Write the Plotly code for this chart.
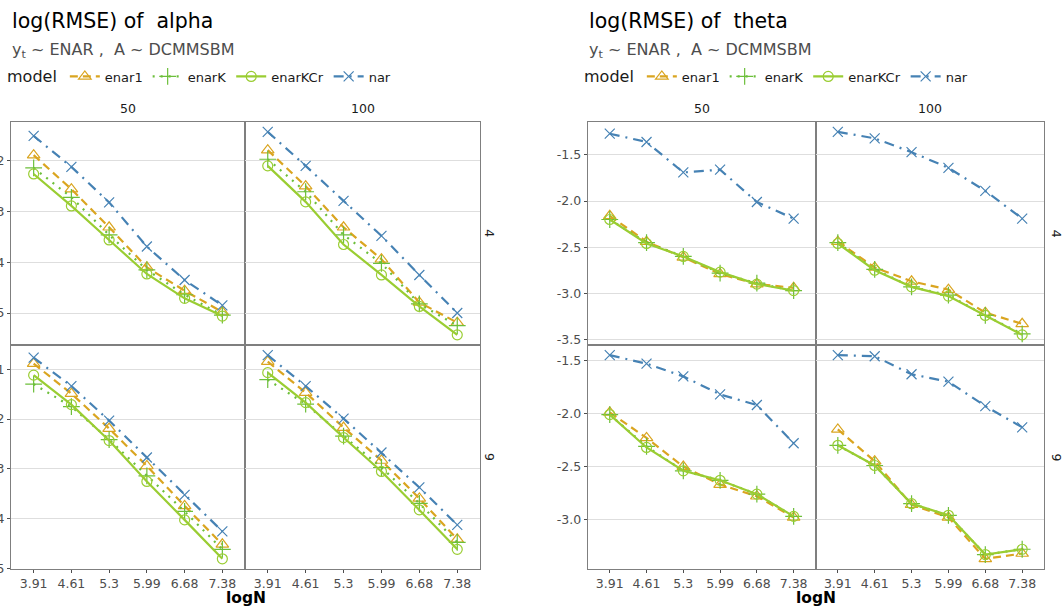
import plotly.graph_objects as go

# ---------------- data ----------------
logN = ["3.91", "4.61", "5.3", "5.99", "6.68", "7.38"]
models = ["enar1", "enarK", "enarKCr", "nar"]
row_labels = ["4", "9"]
col_labels = ["50", "100"]

# alpha : row "4"
alpha_4_50_enar1 = [-1.89, -2.56, -3.31, -4.10, -4.56, -4.98]
alpha_4_50_enarK = [-2.14, -2.72, -3.46, -4.15, -4.64, -5.04]
alpha_4_50_enarKCr = [-2.26, -2.89, -3.56, -4.23, -4.71, -5.06]
alpha_4_50_nar = [-1.51, -2.12, -2.82, -3.69, -4.35, -4.85]
alpha_4_100_enar1 = [-1.79, -2.50, -3.31, -3.94, -4.79, -5.19]
alpha_4_100_enarK = [-1.97, -2.61, -3.46, -4.02, -4.82, -5.25]
alpha_4_100_enarKCr = [-2.10, -2.81, -3.65, -4.25, -4.87, -5.43]
alpha_4_100_nar = [-1.43, -2.10, -2.79, -3.48, -4.25, -5.00]
# alpha : row "9"
alpha_9_50_enar1 = [-0.89, -1.49, -2.19, -2.94, -3.74, -4.51]
alpha_9_50_enarK = [-1.30, -1.75, -2.41, -3.14, -3.85, -4.61]
alpha_9_50_enarKCr = [-1.12, -1.71, -2.43, -3.25, -4.02, -4.80]
alpha_9_50_nar = [-0.77, -1.34, -2.03, -2.77, -3.52, -4.25]
alpha_9_100_enar1 = [-0.85, -1.47, -2.17, -2.83, -3.59, -4.41]
alpha_9_100_enarK = [-1.21, -1.70, -2.34, -2.97, -3.69, -4.47]
alpha_9_100_enarKCr = [-1.07, -1.67, -2.37, -3.05, -3.82, -4.61]
alpha_9_100_nar = [-0.72, -1.34, -1.99, -2.67, -3.37, -4.12]

# theta : row "4"
theta_4_50_enar1 = [-2.16, -2.44, -2.61, -2.79, -2.90, -2.94]
theta_4_50_enarK = [-2.20, -2.45, -2.60, -2.78, -2.89, -2.97]
theta_4_50_enarKCr = [-2.20, -2.46, -2.60, -2.77, -2.90, -2.97]
theta_4_50_nar = [-1.27, -1.36, -1.69, -1.66, -2.01, -2.19]
theta_4_100_enar1 = [-2.44, -2.72, -2.87, -2.96, -3.21, -3.33]
theta_4_100_enarK = [-2.45, -2.74, -2.93, -3.02, -3.24, -3.44]
theta_4_100_enarKCr = [-2.46, -2.75, -2.93, -3.03, -3.24, -3.45]
theta_4_100_nar = [-1.25, -1.32, -1.47, -1.64, -1.89, -2.19]
# theta : row "9"
theta_9_50_enar1 = [-1.99, -2.23, -2.50, -2.67, -2.78, -2.98]
theta_9_50_enarK = [-2.01, -2.31, -2.54, -2.63, -2.76, -2.97]
theta_9_50_enarKCr = [-2.01, -2.32, -2.54, -2.63, -2.76, -2.97]
theta_9_50_nar = [-1.45, -1.53, -1.65, -1.82, -1.92, -2.28]
theta_9_100_enar1 = [-2.15, -2.45, -2.86, -2.98, -3.37, -3.32]
theta_9_100_enarK = [-2.30, -2.49, -2.85, -2.96, -3.33, -3.28]
theta_9_100_enarKCr = [-2.30, -2.49, -2.85, -2.96, -3.33, -3.28]
theta_9_100_nar = [-1.45, -1.46, -1.63, -1.70, -1.93, -2.13]

alpha_ticks = {"4": [-2, -3, -4, -5], "9": [-1, -2, -3, -4, -5]}
theta_ticks = {"4": [-1.5, -2.0, -2.5, -3.0, -3.5], "9": [-1.5, -2.0, -2.5, -3.0]}

# ---------------- assembly ----------------
D = globals()
W, H = 1064, 607
FONT = "DejaVu Sans"

def px_x(p):
    return p / W

def px_y(p):
    return 1 - p / H

styles = {
    "enar1": dict(color="#DAA520", dash="8px,5px", symbol="triangle-up-open", size=11),
    "enarK": dict(color="#6CBF3A", dash="2px,6px", symbol="cross-thin-open", size=12),
    "enarKCr": dict(color="#9ACD32", dash="solid", symbol="circle-open", size=10),
    "nar": dict(color="#4682B4", dash="10px,6px,2px,6px", symbol="x-thin-open", size=10),
}

charts = [
    dict(name="alpha", title="log(RMSE) of  alpha", cols=[(11, 245), (245, 480)], ticks=alpha_ticks,
         tfmt=lambda v: f"{v:d}", strip_x=490),
    dict(name="theta", title="log(RMSE) of  theta", cols=[(587.7, 815.7), (815.7, 1044.3)], ticks=theta_ticks,
         tfmt=lambda v: f"{v:.1f}", strip_x=1056.5),
]
rows = [(121.7, 345), (345, 569)]

fig = go.Figure()
layout = {}
annotations = []
idx = 0
for c, ch in enumerate(charts):
    for r, rl in enumerate(row_labels):
        # y range per row (free y) with 5% expansion
        allv = []
        for cl in col_labels:
            for m in models:
                allv += D[f"{ch['name']}_{rl}_{cl}_{m}"]
        lo, hi = min(allv), max(allv)
        pad = (hi - lo) * 0.05
        yr = [lo - pad, hi + pad]
        for k, cl in enumerate(col_labels):
            idx += 1
            xa = "xaxis" if idx == 1 else f"xaxis{idx}"
            ya = "yaxis" if idx == 1 else f"yaxis{idx}"
            xr = "x" if idx == 1 else f"x{idx}"
            yrf = "y" if idx == 1 else f"y{idx}"
            x0, x1 = ch["cols"][k]
            y0, y1 = rows[r]
            layout[xa] = dict(
                domain=[px_x(x0), px_x(x1)], anchor=yrf, type="category",
                categoryorder="array", categoryarray=logN, range=[-0.6, 5.6],
                showgrid=False, zeroline=False, showline=True, mirror=True,
                linecolor="#7F7F7F", linewidth=1,
                showticklabels=(r == 1), ticks="outside" if r == 1 else "",
                ticklen=3, tickcolor="#4D4D4D",
                tickfont=dict(family=FONT, size=12.5, color="#4D4D4D"),
            )
            tv = ch["ticks"][rl]
            layout[ya] = dict(
                domain=[px_y(y1), px_y(y0)], anchor=xr, range=yr,
                tickvals=tv, ticktext=[ch["tfmt"](v) for v in tv],
                showgrid=True, gridcolor="#DEDEDE", gridwidth=1, zeroline=False,
                showline=True, mirror=True, linecolor="#7F7F7F", linewidth=1,
                showticklabels=(k == 0), ticks="outside" if k == 0 else "",
                ticklen=3, tickcolor="#4D4D4D",
                tickfont=dict(family=FONT, size=12.5, color="#4D4D4D"),
            )
            for m in models:
                st = styles[m]
                fig.add_trace(go.Scatter(
                    x=logN, y=D[f"{ch['name']}_{rl}_{cl}_{m}"],
                    mode="lines+markers", name=m,
                    line=dict(color=st["color"], width=2.2, dash=st["dash"]),
                    marker=dict(symbol=st["symbol"], size=st["size"], color=st["color"],
                                line=dict(color=st["color"], width=1.2)),
                    legend="legend" if c == 0 else "legend2",
                    legendgroup=f"{c}-{m}", showlegend=(r == 0 and k == 0),
                    xaxis=xr, yaxis=yrf,
                ))
            if r == 0:
                annotations.append(dict(
                    text=cl, x=px_x((x0 + x1) / 2), y=px_y(108), xref="paper", yref="paper",
                    showarrow=False, xanchor="center", yanchor="middle",
                    font=dict(family=FONT, size=12.5, color="#1A1A1A")))
        annotations.append(dict(
            text=rl, x=px_x(ch["strip_x"]), y=px_y((rows[r][0] + rows[r][1]) / 2),
            xref="paper", yref="paper", showarrow=False, textangle=90,
            xanchor="center", yanchor="middle",
            font=dict(family=FONT, size=12.5, color="#1A1A1A")))
    left = ch["cols"][0][0] - 1
    annotations.append(dict(
        text=ch["title"], x=px_x(left), y=px_y(21), xref="paper", yref="paper",
        showarrow=False, xanchor="left", yanchor="middle",
        font=dict(family=FONT, size=20.5, color="#000000")))
    annotations.append(dict(
        text="y<sub>t</sub> ~ ENAR ,  A ~ DCMMSBM", x=px_x(left), y=px_y(50),
        xref="paper", yref="paper", showarrow=False, xanchor="left", yanchor="middle",
        font=dict(family=FONT, size=16, color="#4D4D4D")))
    annotations.append(dict(
        text="<b>logN</b>", x=px_x((ch["cols"][0][0] + ch["cols"][1][1]) / 2), y=px_y(598),
        xref="paper", yref="paper", showarrow=False, xanchor="center", yanchor="middle",
        font=dict(family=FONT, size=15.5, color="#000000")))

legend_common = dict(
    orientation="h", xanchor="left", yanchor="middle", y=px_y(77),
    title=dict(text="model", font=dict(family=FONT, size=16, color="#1A1A1A")),
    font=dict(family=FONT, size=13, color="#1A1A1A"),
    bgcolor="rgba(0,0,0,0)", itemwidth=30, tracegroupgap=0,
)
layout["legend"] = dict(x=px_x(5), **legend_common)
layout["legend2"] = dict(x=px_x(582), **legend_common)

fig.update_layout(
    width=W, height=H, margin=dict(l=0, r=0, t=0, b=0, autoexpand=False),
    paper_bgcolor="white", plot_bgcolor="white",
    font=dict(family=FONT), annotations=annotations, **layout,
)

fig.write_html("out.html")
